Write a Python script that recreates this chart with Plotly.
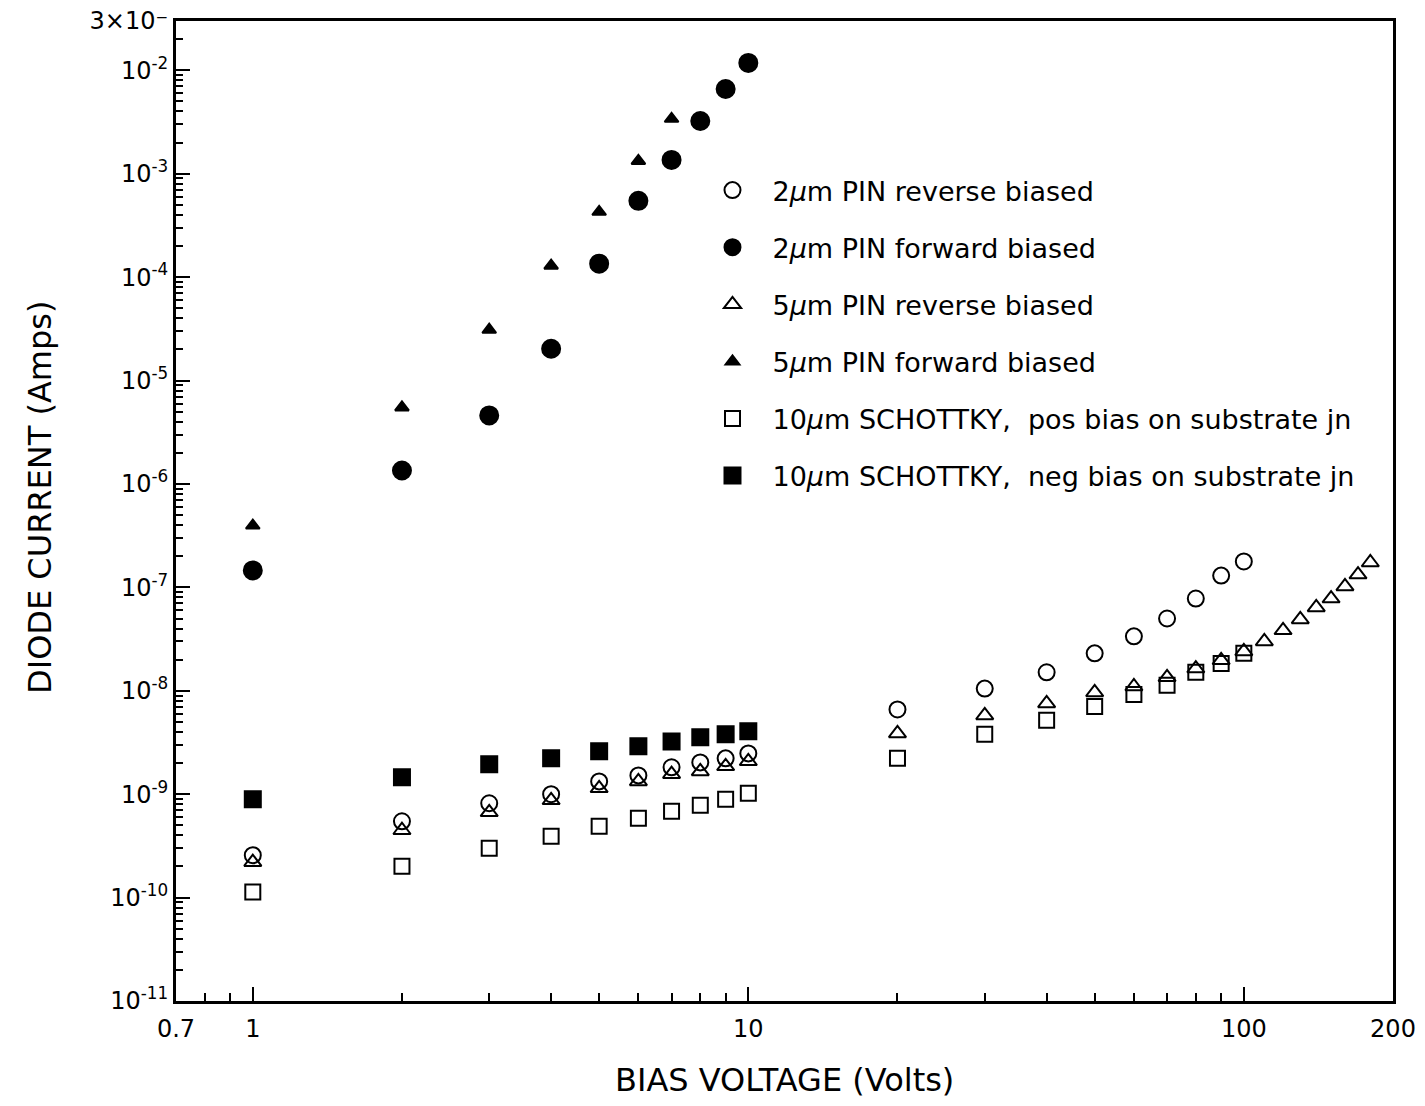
import plotly.graph_objects as go

# ---- data ----
v_2rev = [1, 2, 3, 4, 5, 6, 7, 8, 9, 10, 20, 30, 40, 50, 60, 70, 80, 90, 100]
i_2rev = [2.57e-10, 5.47e-10, 8.17e-10, 1.0e-9, 1.33e-9, 1.52e-9, 1.82e-9, 2.03e-9, 2.22e-9, 2.48e-9,
          6.6e-9, 1.05e-8, 1.51e-8, 2.3e-8, 3.36e-8, 5.0e-8, 7.8e-8, 1.30e-7, 1.78e-7]

v_2fwd = [1, 2, 3, 4, 5, 6, 7, 8, 9, 10]
i_2fwd = [1.46e-7, 1.35e-6, 4.6e-6, 2.03e-5, 1.35e-4, 5.47e-4, 1.36e-3, 3.24e-3, 6.6e-3, 1.18e-2]

v_5rev = [1, 2, 3, 4, 5, 6, 7, 8, 9, 10, 20, 30, 40, 50, 60, 70, 80, 90, 100,
          110, 120, 130, 140, 150, 160, 170, 180]
i_5rev = [2.2e-10, 4.48e-10, 6.68e-10, 8.73e-10, 1.14e-9, 1.33e-9, 1.56e-9, 1.66e-9, 1.86e-9, 2.08e-9,
          3.87e-9, 5.78e-9, 7.55e-9, 9.64e-9, 1.10e-8, 1.35e-8, 1.64e-8, 1.97e-8, 2.40e-8,
          3.0e-8, 3.84e-8, 4.9e-8, 6.4e-8, 7.8e-8, 1.02e-7, 1.33e-7, 1.74e-7]

v_5fwd = [1, 2, 3, 4, 5, 6, 7]
i_5fwd = [3.96e-7, 5.5e-6, 3.1e-5, 1.29e-4, 4.28e-4, 1.33e-3, 3.4e-3]

v_10pos = [1, 2, 3, 4, 5, 6, 7, 8, 9, 10, 20, 30, 40, 50, 60, 70, 80, 90, 100]
i_10pos = [1.13e-10, 2.01e-10, 3.0e-10, 3.92e-10, 4.9e-10, 5.85e-10, 6.84e-10, 7.8e-10, 8.93e-10, 1.02e-9,
           2.22e-9, 3.79e-9, 5.18e-9, 7.06e-9, 9.2e-9, 1.13e-8, 1.51e-8, 1.84e-8, 2.3e-8]

v_10neg = [1, 2, 3, 4, 5, 6, 7, 8, 9, 10]
i_10neg = [8.93e-10, 1.46e-9, 1.95e-9, 2.22e-9, 2.6e-9, 2.9e-9, 3.24e-9, 3.55e-9, 3.79e-9, 4.05e-9]

names = [
    "2<i>μ</i>m PIN reverse biased",
    "2<i>μ</i>m PIN forward biased",
    "5<i>μ</i>m PIN reverse biased",
    "5<i>μ</i>m PIN forward biased",
    "10<i>μ</i>m SCHOTTKY,  pos bias on substrate jn",
    "10<i>μ</i>m SCHOTTKY,  neg bias on substrate jn",
]

x_title = "BIAS VOLTAGE (Volts)"
y_title = "DIODE CURRENT (Amps)"

x_tickvals = [0.7, 1, 10, 100, 200]
x_ticktext = ["0.7", "1", "10", "100", "200"]
y_tickvals = [1e-11, 1e-10, 1e-9, 1e-8, 1e-7, 1e-6, 1e-5, 1e-4, 1e-3, 1e-2, 3e-2]
y_ticktext = ["10<sup>-11</sup>", "10<sup>-10</sup>", "10<sup>-9</sup>", "10<sup>-8</sup>",
              "10<sup>-7</sup>", "10<sup>-6</sup>", "10<sup>-5</sup>", "10<sup>-4</sup>",
              "10<sup>-3</sup>", "10<sup>-2</sup>", "3×10⁻"]

FONT = "DejaVu Sans, sans-serif"

series = [
    (v_2rev, i_2rev, "circle-open", 16),
    (v_2fwd, i_2fwd, "circle", 18),
    (v_5rev, i_5rev, "triangle-up-open", 15),
    (v_5fwd, i_5fwd, "triangle-up", 12),
    (v_10pos, i_10pos, "square-open", 15),
    (v_10neg, i_10neg, "square", 16),
]

fig = go.Figure()
for k, (xs, ys, sym, sz) in enumerate(series):
    fig.add_trace(go.Scatter(
        x=xs, y=ys, mode="markers", name=names[k], legendgroup=str(k),
        marker=dict(symbol=sym, size=sz, color="black", line=dict(color="black", width=2)),
    ))

x_minor = [m * 10 ** e for e in (-1, 0, 1, 2) for m in range(2, 10) if 0.7 < m * 10 ** e < 200]
y_minor = [m * 10 ** e for e in range(-11, -1) for m in range(2, 10) if m * 10 ** e < 3e-2]

fig.update_layout(
    width=1417, height=1098,
    margin=dict(l=168, r=32, t=13, b=105),
    paper_bgcolor="white", plot_bgcolor="white",
    font=dict(family=FONT, color="black", size=24),
    showlegend=True,
    legend=dict(x=0.4244, y=0.852, xanchor="left", yanchor="top",
                bgcolor="rgba(0,0,0,0)", borderwidth=0,
                font=dict(size=27, family=FONT), itemwidth=70,
                tracegroupgap=19, traceorder="grouped"),
    xaxis=dict(type="log", range=[-0.15499, 2.30104], automargin=False,
               tickvals=x_tickvals, ticktext=x_ticktext,
               ticks="inside", ticklen=14, tickwidth=2, tickcolor="black",
               minor=dict(tickvals=x_minor, ticks="inside", ticklen=8, tickwidth=1.5, tickcolor="black"),
               showline=True, linewidth=3, linecolor="black", mirror=True,
               showgrid=False, zeroline=False, ticklabelstandoff=4,
               ticklabeloverflow="allow",
               tickfont=dict(size=24)),
    yaxis=dict(type="log", range=[-11.00001, -1.52287], automargin=False,
               tickvals=y_tickvals, ticktext=y_ticktext,
               ticks="inside", ticklen=14, tickwidth=2, tickcolor="black",
               minor=dict(tickvals=y_minor, ticks="inside", ticklen=7, tickwidth=1.5, tickcolor="black"),
               showline=True, linewidth=3, linecolor="black", mirror=True,
               showgrid=False, zeroline=False, ticklabeloverflow="allow",
               tickfont=dict(size=24)),
    annotations=[
        dict(text=x_title, xref="paper", yref="paper", x=0.5, y=-0.0806,
             xanchor="center", yanchor="middle", showarrow=False, font=dict(size=32)),
        dict(text=y_title, xref="paper", yref="paper", x=-0.1118, y=0.5143,
             xanchor="center", yanchor="middle", textangle=-90, showarrow=False, font=dict(size=32)),
    ],
)

fig.write_html("out.html")
